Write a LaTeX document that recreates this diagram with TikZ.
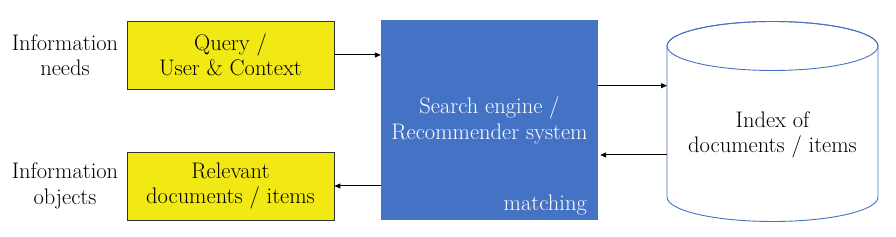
\documentclass[tikz,border=0pt]{standalone}
\usetikzlibrary{arrows.meta}
\definecolor{ybfill}{RGB}{242,232,20}
\definecolor{bbfill}{RGB}{68,114,196}
\definecolor{cylline}{RGB}{68,114,196}
\begin{document}
\begin{tikzpicture}[x=1pt,y=1pt,font=\fontsize{22.5}{25.5}\selectfont,
  ybox/.style={draw=black!80,line width=0.8pt,fill=ybfill,minimum width=207pt,minimum height=68pt,align=center,inner sep=0pt},
  bbox/.style={fill=bbfill,minimum width=217pt,minimum height=200pt,align=center,text=white,inner sep=0pt},
  lbl/.style={align=center,inner sep=0pt},
  arr/.style={line width=1pt,-{Triangle[length=6pt,width=5pt]}}]
\useasboundingbox (0,0) rectangle (896,237);
\node[lbl] (needs) at (65,182) {Information\\needs};
\node[lbl] (objects) at (65,51) {Information\\objects};
\node[ybox] (query) at (230.5,182) {Query /\\User \& Context};
\node[ybox] (relevant) at (230.5,51) {Relevant\\documents / items};
\node[bbox] (engine) at (489.5,116.7) {Search engine /\\Recommender system};
\node[anchor=base east,text=white,inner sep=0pt] (matching) at (587,26) {matching};
% cylinder
\draw[cylline,line width=0.9pt,fill=white] (667,191) -- (667,40) arc[start angle=180,end angle=360,x radius=105.5,y radius=24.5] -- (878,191) arc[start angle=0,end angle=180,x radius=105.5,y radius=24.5] -- cycle;
\draw[cylline,line width=0.9pt] (772.5,191) ellipse[x radius=105.5,y radius=24.5];
\node[lbl] (index) at (772.5,102) {Index of\\documents / items};
\coordinate (cylA) at (667,151.3);
\coordinate (cylB) at (667,82);
\draw[arr] (query.east) -- (query.east -| engine.west);
\draw[arr] (engine.west |- relevant.east) -- (relevant.east);
\draw[arr] (engine.east |- cylA) -- (cylA);
\draw[arr] (cylB) -- ([xshift=2pt]engine.east |- cylB);
\end{tikzpicture}
\end{document}
